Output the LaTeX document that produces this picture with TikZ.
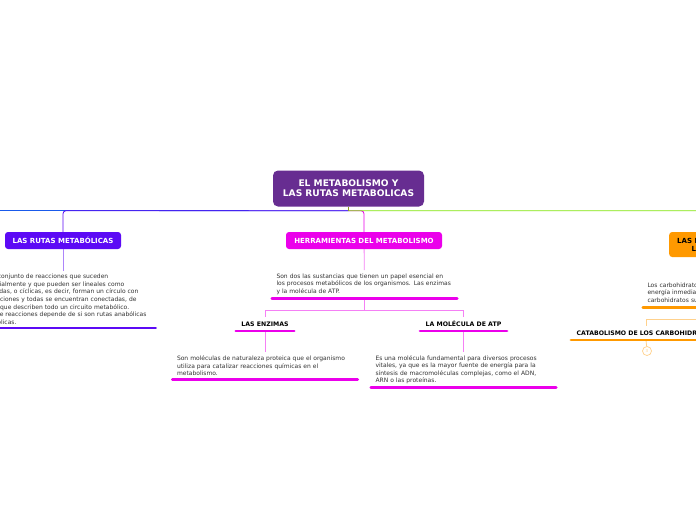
\documentclass[tikz,border=0pt]{standalone}
\usepackage{fontspec}
\setmainfont{DejaVu Sans}
\usepackage{xcolor}
\usetikzlibrary{calc}
\definecolor{rootpurple}{RGB}{103,45,145}
\definecolor{rutasviolet}{RGB}{92,10,245}
\definecolor{herrmag}{RGB}{235,0,235}
\definecolor{carbor}{RGB}{255,153,0}
\definecolor{limeline}{RGB}{128,230,10}
\definecolor{blueline}{RGB}{25,90,235}
\definecolor{oliveline}{RGB}{140,160,30}
\definecolor{desctext}{RGB}{51,51,51}
\tikzset{
  topic/.style={rounded corners=3pt, minimum height=17pt, inner sep=0pt, text=white, font=\fontsize{7}{8}\selectfont\bfseries, align=center},
  desc/.style={anchor=north, text width=176pt, inner xsep=4.5pt, inner ysep=3.5pt, align=left, text=desctext, font=\fontsize{6}{7.6}\selectfont},
  subtitle/.style={inner xsep=5.5pt, inner ysep=4.5pt, text height=4.5pt, text depth=0pt, font=\fontsize{6.2}{7}\selectfont\bfseries},
  topicline/.style={line width=2.6pt, line cap=round},
  link/.style={line width=0.8pt}
}
\begin{document}
\begin{tikzpicture}[x=1pt,y=-1pt]
\useasboundingbox[fill=white] (0,0) rectangle (696,520);
\node[rounded corners=5pt, fill=rootpurple, text=white, minimum width=151pt, minimum height=36pt, align=center, font=\fontsize{9.1}{10}\selectfont\bfseries] (root) at (348.5,188.5) {EL METABOLISMO Y\\LAS RUTAS METABOLICAS};
\coordinate (hub) at ($(root.south)+(0,4)$);
\coordinate (farleft) at (-10,210.5);
\node[topic, fill=rutasviolet, minimum width=116pt] (rutas) at (63,240.5) {LAS RUTAS METABÓLICAS};
\node[topic, fill=herrmag, minimum width=156pt] (herr) at (364,240.5) {HERRAMIENTAS DEL METABOLISMO};
\node[topic, fill=carbor, text=black, anchor=west, minimum height=25pt, inner xsep=8pt] (carbo) at (669,244.5) {LAS RUTAS METABÓLICAS DE\\LOS CARBOHIDRATOS};
% main branches
\draw[link, blueline] (hub) -- (farleft);
\draw[link, rutasviolet, rounded corners=3pt] (hub) -| (rutas.north);
\draw[link, herrmag, rounded corners=3pt] (hub) -| (herr.north);
\draw[link, limeline, rounded corners=3pt] (hub) -| (carbo.north);
\draw[link, oliveline] (root.south) -- (hub);
% descriptions
\node[desc] (ldesc) at (63,270.5) {Son un conjunto de reacciones que suceden\\secuencialmente y que pueden ser lineales como\\ramificadas, o cíclicas, es decir, forman un círculo con\\sus reacciones y todas se encuentran conectadas, de\\manera que describen todo un circuito metabólico.\\El tipo de reacciones depende de si son rutas anabólicas\\o catabólicas.};
\node[desc] (mdesc) at (364.5,270) {Son dos las sustancias que tienen un papel esencial en\\los procesos metabólicos de los organismos. Las enzimas\\y la molécula de ATP.};
\node[desc] (cdesc) at (735.5,279) {Los carbohidratos son la principal fuente de\\energía inmediata para los seres vivos. Los\\carbohidratos sufren rutas de degradación.};
\draw[link, rutasviolet!50] (rutas) -- (ldesc);
\draw[link, herrmag!50] (herr) -- (mdesc);
\draw[link, carbor!45] (carbo) -- (cdesc);
% subtopics
\node[subtitle] (enz) at (265,324) {LAS ENZIMAS};
\node[subtitle] (atp) at (463.5,324) {LA MOLÉCULA DE ATP};
\node[subtitle] (cat) at (646,333) {CATABOLISMO DE LOS CARBOHIDRATOS};
\coordinate (split) at ($(mdesc.south)+(0,12)$);
\draw[link, herrmag!50] (mdesc.south) -- (split) -| (enz.north);
\draw[link, herrmag!50] (split) -| (atp.north);
\draw[link, carbor!45] (cdesc.south) -- ++(0,12) -| (cat.north);
\node[desc] (edesc) at (265,352) {Son moléculas de naturaleza proteica que el organismo\\utiliza para catalizar reacciones químicas en el\\metabolismo.};
\node[desc] (adesc) at (463.5,351.5) {Es una molécula fundamental para diversos procesos\\vitales, ya que es la mayor fuente de energía para la\\síntesis de macromoléculas complejas, como el ADN,\\ARN o las proteínas.};
\draw[link, herrmag!50] (enz) -- (edesc);
\draw[link, herrmag!50] (atp) -- (adesc);
\node[circle, draw=carbor!45, line width=0.7pt, fill=white, minimum size=9pt, inner sep=0pt, text=carbor!45, font=\fontsize{4}{4}\selectfont] (fold) at (647,351) {3};
\draw[link, carbor!45] (cat.south) -- (fold);
% underlines
\foreach \n/\c in {ldesc/rutasviolet, mdesc/herrmag, edesc/herrmag, adesc/herrmag, cdesc/carbor, enz/herrmag, atp/herrmag, cat/carbor}
  \draw[topicline, \c] (\n.south west) -- (\n.south east);
\end{tikzpicture}
\end{document}
